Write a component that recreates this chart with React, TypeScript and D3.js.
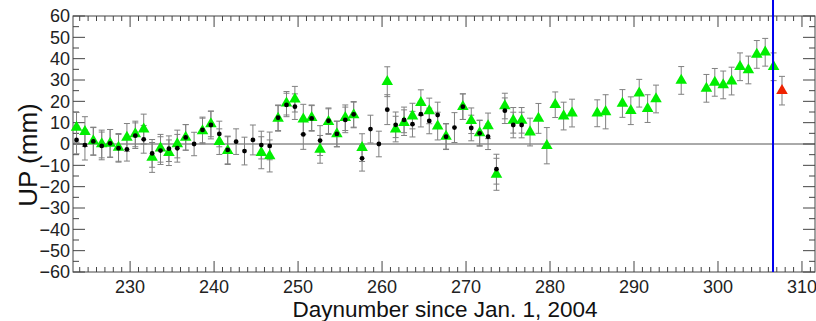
import React from "react";
import * as d3 from "d3";

// Black dots (one solution)
const dotDays = [223, 224, 225, 226, 227, 228, 229, 230, 231, 232, 233, 234, 235, 236, 237, 238, 239, 240, 241, 242, 243, 244, 245, 246, 247, 248, 249, 250, 251, 252, 253, 254, 255, 256, 257, 258, 259, 260, 261, 262, 263, 264, 265, 266, 267, 268, 269, 270, 271, 272, 273, 274, 275, 276];
const dotVals = [1.9, -0.5, 1.2, -0.9, 0.3, -2.0, -2.5, 3.9, 2.2, -4.4, -3.1, -2.2, -2.0, 3.1, 0, 6.6, 8.9, 4.7, -2.8, 1.1, -3.3, 1.9, -0.5, -0.9, 12.3, 18.3, 17.5, 4.5, 12.0, 1.6, 10.9, 4.7, 11.3, 13.9, -6.7, 7.0, 0, 16.1, 9.0, 11.3, 9.3, 14.0, 10.8, 13.6, 3.4, 7.7, 17.5, 7.5, 5.0, 3.4, -11.8, 15.6, 8.9, 8.9];
const dotErr = [6.5, 7, 6.5, 6.5, 6.5, 6.5, 5.5, 6, 6.5, 6.5, 6.5, 6, 6.5, 6, 5.5, 6, 6.5, 6, 6.5, 6, 6.5, 7, 6.5, 6.5, 6, 5.5, 6, 7, 6, 7, 6, 6, 6, 6, 6, 6.5, 6, 7, 6, 6, 6, 6, 6, 6, 6, 7, 6, 6, 6, 6, 7, 6, 6, 6];

// Green triangles (second solution)
const triDays = [223, 224, 225, 226, 227, 228, 229, 230, 231, 232, 233, 234, 235, 236, 238, 239, 240, 241, 245, 246, 247, 248, 249, 250, 251, 252, 253, 254, 255, 256, 257, 260, 261, 262, 263, 264, 265, 266, 267, 269, 270, 271, 272, 273, 274, 275, 276, 277, 278, 279, 280, 281, 282, 285, 286, 288, 289, 290, 291, 292, 295, 298, 299, 300, 301, 302, 303, 304, 305, 306];
const triVals = [7.8, 5.8, 1.4, 0, 0.3, -1.6, 3.1, 4.7, 7.0, -6.3, -2.0, -4.1, 0, 3.1, 6.1, 9.4, 1.1, -3.1, -4.1, -5.6, 12.0, 19.1, 21.0, 11.6, 12.3, -2.5, 10.5, 4.7, 12.3, 13.6, -1.7, 29.2, 7.0, 10.0, 13.1, 19.4, 15.5, 8.4, 3.6, 17.5, 10.9, 5.2, 8.5, -14.2, 17.8, 11.1, 11.1, 5.6, 12.0, -0.8, 18.4, 13.1, 14.5, 14.4, 15.1, 19.0, 15.6, 23.8, 16.6, 21.1, 29.8, 26.1, 28.9, 27.7, 29.5, 36.2, 34.7, 42.0, 43.0, 36.2];
const triErr = [7, 7, 6.5, 6.5, 6.5, 6.5, 6.5, 6, 7, 7, 6.5, 6, 6.5, 6, 6, 6, 6, 6.5, 7.5, 7.5, 6, 5.5, 6, 7, 6, 6.5, 6, 6, 6, 6, 6.5, 7, 6, 6, 6, 6, 6, 6.5, 6, 6, 6, 6, 6, 7.5, 6, 6, 6, 6.5, 7, 8.5, 6, 6.5, 6.5, 6.3, 8, 6.5, 6.5, 6.5, 6.5, 6.5, 6.5, 6.5, 6.5, 6.5, 6.5, 6.5, 6.5, 6.5, 6.5, 6.5];

// Red triangle (latest)
const redDays = [307];
const redVals = [25.0];
const redErr = [6.7];

const markerLine = [306.55];
const dayOffset = 0.62;

const xDomain = [223.2, 311.55];
const yDomain = [-60, 60];
const yTicks = d3.range(-60, 61, 10);
const yMinor = d3.range(-55, 60, 10);
const xMajor = d3.range(230, 311, 10);
const xMinor = d3.range(224, 312, 1);

const W = 816, H = 321;
const L = 73, R = 815, T = 16, B = 272;

export default function App() {
  const x = d3.scaleLinear().domain(xDomain).range([L, R]);
  const y = d3.scaleLinear().domain(yDomain).range([B, T]);
  const axisCol = "#444";
  const errCol = "#808080";
  const font = "'Liberation Sans', Arial, Helvetica, sans-serif";
  const tri = d3.symbol().type(d3.symbolTriangle).size(58);
  const cap = 3;

  const errBars = (days: number[], vals: number[], errs: number[], key: string) =>
    days.map((d, i) => {
      const cx = x(d + dayOffset);
      const y0 = y(vals[i] + errs[i]);
      const y1 = y(vals[i] - errs[i]);
      return (
        <g key={key + i} stroke={errCol} strokeWidth={1}>
          <line x1={cx} x2={cx} y1={y0} y2={y1} />
          <line x1={cx - cap} x2={cx + cap} y1={y0} y2={y0} />
          <line x1={cx - cap} x2={cx + cap} y1={y1} y2={y1} />
        </g>
      );
    });

  return (
    <svg width={W} height={H} style={{ position: "absolute", left: 0, top: 0, background: "#fff" }}>
      <rect x={0} y={0} width={W} height={H} fill="#fff" />
      {/* zero line */}
      <line x1={L} x2={R} y1={y(0)} y2={y(0)} stroke="#555" strokeWidth={1} />
      {/* frame */}
      <rect x={L} y={T} width={R - L} height={B - T} fill="none" stroke={axisCol} strokeWidth={1} />
      {/* y ticks */}
      {yTicks.map((t) => (
        <g key={"yt" + t} stroke={axisCol}>
          <line x1={L} x2={L + 12} y1={y(t)} y2={y(t)} />
          <line x1={R} x2={R - 12} y1={y(t)} y2={y(t)} />
        </g>
      ))}
      {yMinor.map((t) => (
        <g key={"ym" + t} stroke={axisCol}>
          <line x1={L} x2={L + 6} y1={y(t)} y2={y(t)} />
          <line x1={R} x2={R - 6} y1={y(t)} y2={y(t)} />
        </g>
      ))}
      {/* x ticks */}
      {xMinor.map((t) => {
        const major = t % 10 === 0;
        const len = major ? 11 : 5;
        return (
          <g key={"xt" + t} stroke={axisCol}>
            <line x1={x(t)} x2={x(t)} y1={B} y2={B - len} />
            <line x1={x(t)} x2={x(t)} y1={T} y2={T + len} />
          </g>
        );
      })}
      {/* tick labels */}
      {yTicks.map((t) => (
        <text key={"yl" + t} x={L - 3} y={y(t)} dy="0.36em" textAnchor="end" fontFamily={font} fontSize={18} fill="#222">
          {t < 0 ? "\u2212" + Math.abs(t) : String(t)}
        </text>
      ))}
      {xMajor.map((t) => (
        <text key={"xl" + t} x={x(t)} y={B + 21} textAnchor="middle" fontFamily={font} fontSize={18} fill="#222">
          {t}
        </text>
      ))}
      <text x={445} y={317} textAnchor="middle" fontFamily={font} fontSize={22.5} fill="#111">
        Daynumber since Jan. 1, 2004
      </text>
      <text transform={`translate(37,${155}) rotate(-90)`} textAnchor="middle" fontFamily={font} fontSize={26} fill="#111">
        UP (mm)
      </text>
      {/* error bars */}
      {errBars(triDays, triVals, triErr, "te")}
      {errBars(dotDays, dotVals, dotErr, "de")}
      {errBars(redDays, redVals, redErr, "re")}
      {/* triangles */}
      {triDays.map((d, i) => (
        <path key={"tr" + i} d={tri() as string} transform={`translate(${x(d + dayOffset)},${y(triVals[i])})`} fill="#00ee00" />
      ))}
      {redDays.map((d, i) => (
        <path key={"rd" + i} d={tri() as string} transform={`translate(${x(d + dayOffset)},${y(redVals[i])})`} fill="#ee2200" />
      ))}
      {/* dots */}
      {dotDays.map((d, i) => (
        <circle key={"dt" + i} cx={x(d + dayOffset)} cy={y(dotVals[i])} r={2.4} fill="#000" />
      ))}
      {/* blue marker line */}
      {markerLine.map((m, i) => (
        <line key={"ml" + i} x1={x(m)} x2={x(m)} y1={0} y2={B} stroke="#0000ee" strokeWidth={2} />
      ))}
    </svg>
  );
}
